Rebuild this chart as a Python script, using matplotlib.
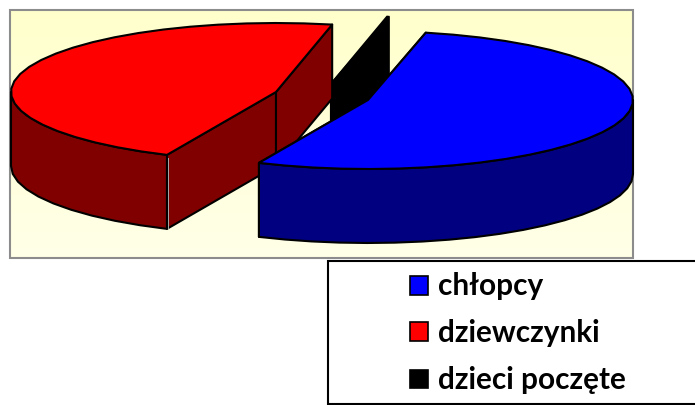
import numpy as np
import matplotlib
matplotlib.use("Agg")
import matplotlib.pyplot as plt
from matplotlib.patches import Polygon, Rectangle

# --- data ---
categories = ["chłopcy", "dziewczynki", "dzieci poczęte"]
values = [53.25, 46.65, 0.1]
top_colors = ["#0000FF", "#FF0000", "#000000"]
side_colors = ["#000080", "#800000", "#000000"]

# --- layout (pixel space) ---
W, H = 695, 405
RX, RY, DEPTH = 265, 69, 74
START = 77.4
centers = [(368, 100), (276, 92), (331, 84)]

fig = plt.figure(figsize=(W / 100, H / 100), dpi=100)
ax = fig.add_axes([0, 0, 1, 1])
ax.set_xlim(0, W)
ax.set_ylim(H, 0)
ax.axis("off")

# plot area with soft vertical gradient
grad = np.linspace(0, 1, 256)[:, None, None]
c0, c1 = np.array([1, 1, 0.80]), np.array([1, 1, 0.91])
ax.imshow(c0 + grad * (c1 - c0), extent=(10, 633, 258, 10), aspect="auto", zorder=1)
ax.set_xlim(0, W)
ax.set_ylim(H, 0)
ax.add_patch(Rectangle((10, 10), 623, 248, fill=False, ec="#8C8C8C", lw=1.5, zorder=2))

total = sum(values)
sweeps = [v / total * 360 for v in values]
starts = START - np.concatenate([[0], np.cumsum(sweeps)[:-1]])


def rim(center, deg):
    a = np.radians(deg)
    return np.column_stack([center[0] + RX * np.cos(a), center[1] - RY * np.sin(a)])


def arc(center, a0, a1):
    n = max(2, int(abs(a1 - a0) / 6) + 1)
    return rim(center, np.linspace(a0, a1, n))


def poly(points, fc, z):
    ax.add_patch(Polygon(points, closed=True, fc=fc, ec="black", lw=1.5,
                         joinstyle="round", zorder=z))


def wall(center, deg, fc, z):
    c = np.array(center, float)
    r = rim(center, deg)[0]
    d = np.array([0, DEPTH])
    poly([c, r, r + d, c + d], fc, z)


def draw_slice(i, z):
    c = centers[i]
    a0, a1 = starts[i], starts[i] - sweeps[i]
    for deg in (a0, a1):
        wall(c, deg, side_colors[i], z)
    # outer rim, only the front part (screen-lower half) is visible
    lo, hi = min(a0, a1), max(a0, a1)
    for k in range(-1, 2):
        s, e = max(lo, -180 + 360 * k), min(hi, 360 * k)
        if e > s:
            top = arc(c, s, e)
            poly(np.vstack([top, (top + [0, DEPTH])[::-1]]), side_colors[i], z + 0.1)
    if sweeps[i] > 5:
        apex = np.array([c])
        poly(np.vstack([apex, arc(c, a0, a1)]), top_colors[i], z + 0.2)


draw_slice(2, 3)
draw_slice(1, 4)
draw_slice(0, 5)

# thin light seam on the red slice's front corner
seam = rim(centers[1], starts[1])[0]
ax.plot([seam[0] + 1.5] * 2, [seam[1] + 3, seam[1] + DEPTH - 1], color="#A8A8A8", lw=0.7, zorder=4.5)

# legend
ax.add_patch(Rectangle((327.5, 260.5), 372, 143, fc="white", ec="black", lw=1.5, zorder=6))
baselines = [295, 342, 389]
boxes = [285.5, 331.5, 379]
for name, col, y, by in zip(categories, top_colors, baselines, boxes):
    ax.add_patch(Rectangle((409.5, by - 9.5), 18.5, 18.5, fc=col, ec="black", lw=1.2, zorder=7))
    ax.text(438, y, name, fontfamily="Lato", fontweight="bold", fontsize=21.4,
            va="baseline", ha="left", color="black", zorder=7)

fig.savefig("out.png", dpi=100)
